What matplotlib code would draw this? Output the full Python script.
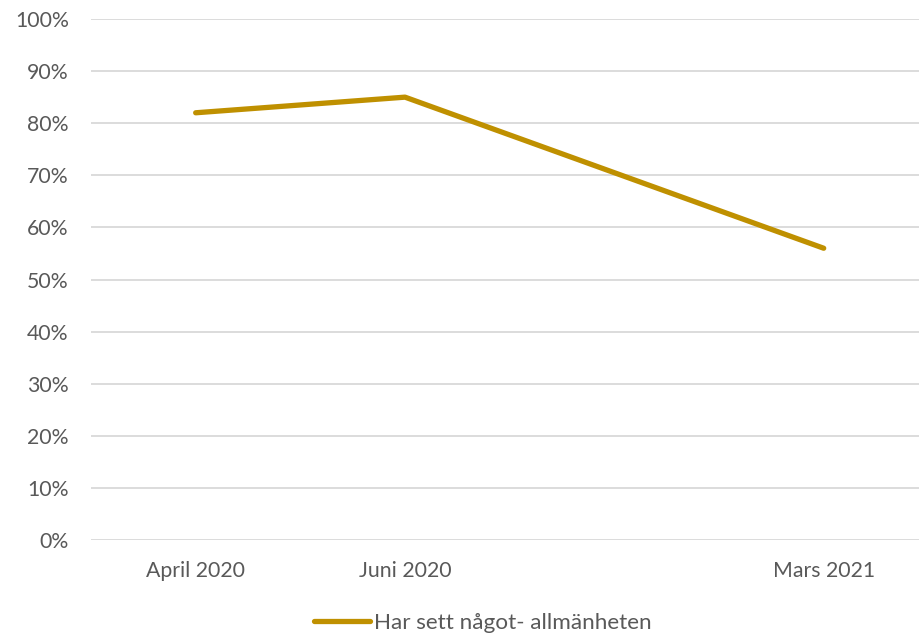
import numpy as np
import matplotlib
matplotlib.use("Agg")
import matplotlib.pyplot as plt
from matplotlib.ticker import PercentFormatter

# data (blank category between Juni 2020 and Mars 2021)
categories = ["April 2020", "Juni 2020", "", "Mars 2021"]
values = [0.82, 0.85, np.nan, 0.56]
series_name = "Har sett något- allmänheten"

GOLD = "#BF9000"
GRID = "#D9D9D9"
TXT = "#595959"

plt.rcParams["font.family"] = ["Lato", "DejaVu Sans"]

fig = plt.figure(figsize=(9.2, 6.35), dpi=100)
ax = fig.add_axes([91 / 920, 1 - 540 / 635, 1 - 91 / 920, (540 - 19) / 635])

pos = np.arange(len(categories))
vals = np.array(values, dtype=float)
mask = ~np.isnan(vals)
ax.plot(pos[mask], vals[mask], color=GOLD, linewidth=3.8,
        solid_capstyle="round", solid_joinstyle="round",
        label=series_name, zorder=3)

ax.set_ylim(0, 1)
ax.set_xlim(-0.5, 3.46)
ax.set_yticks(np.arange(0, 1.01, 0.1))
ax.yaxis.set_major_formatter(PercentFormatter(1.0, decimals=0))
ax.set_xticks(pos)
ax.set_xticklabels(categories)
ax.grid(axis="y", color=GRID, linewidth=1.3)
ax.set_axisbelow(True)
for s in ax.spines.values():
    s.set_visible(False)
ax.tick_params(axis="both", length=0, labelsize=15.3, colors=TXT)
ax.tick_params(axis="y", pad=16)
ax.tick_params(axis="x", pad=15)

leg = fig.legend(loc="center left", bbox_to_anchor=(314 / 920, 1 - 623 / 635),
                 frameon=False, fontsize=16.2, handlelength=2.5,
                 handletextpad=0.15, borderpad=0, borderaxespad=0)
for t in leg.get_texts():
    t.set_color(TXT)

fig.savefig("out.png", dpi=100, facecolor="white")
